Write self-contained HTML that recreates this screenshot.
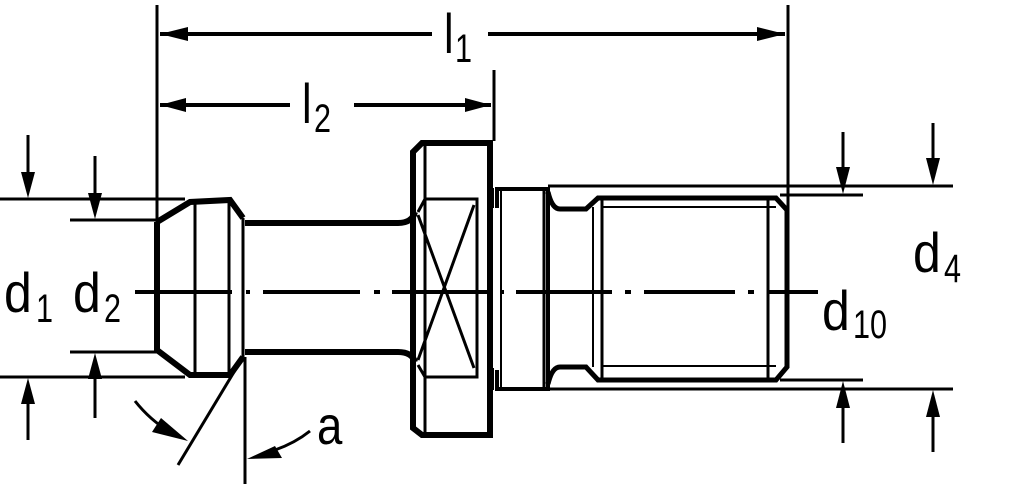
<!DOCTYPE html>
<html><head><meta charset="utf-8"><style>
html,body{margin:0;padding:0;background:#fff;}
svg{display:block;}
text{font-family:"Liberation Sans",sans-serif;fill:#000;}
</style></head><body>
<svg width="1024" height="486" viewBox="0 0 1024 486" xmlns="http://www.w3.org/2000/svg">
<g stroke="#000" fill="none" stroke-linecap="butt">
<line x1="157" y1="5" x2="157" y2="222" stroke-width="3"/>
<line x1="788" y1="5" x2="788" y2="210" stroke-width="3"/>
<line x1="494" y1="70" x2="494" y2="141" stroke-width="3"/>
<line x1="160" y1="34" x2="432" y2="34" stroke-width="4"/>
<line x1="488" y1="34" x2="785" y2="34" stroke-width="4"/>
<line x1="160" y1="105" x2="290" y2="105" stroke-width="4"/>
<line x1="354" y1="105" x2="491" y2="105" stroke-width="4"/>
<line x1="0" y1="199" x2="185" y2="199" stroke-width="3"/>
<line x1="0" y1="377" x2="185" y2="377" stroke-width="3"/>
<line x1="70" y1="220" x2="157" y2="220" stroke-width="3"/>
<line x1="70" y1="352" x2="157" y2="352" stroke-width="3"/>
<line x1="28" y1="135" x2="28" y2="175" stroke-width="3"/>
<line x1="28" y1="400" x2="28" y2="440" stroke-width="3"/>
<line x1="95" y1="156" x2="95" y2="195" stroke-width="3"/>
<line x1="95" y1="378" x2="95" y2="418" stroke-width="3"/>
<line x1="548" y1="186" x2="953" y2="186" stroke-width="3"/>
<line x1="548" y1="389" x2="953" y2="389" stroke-width="3"/>
<line x1="780" y1="195" x2="863" y2="195" stroke-width="3"/>
<line x1="780" y1="380" x2="863" y2="380" stroke-width="3"/>
<line x1="843" y1="132" x2="843" y2="170" stroke-width="3"/>
<line x1="843" y1="405" x2="843" y2="443" stroke-width="3"/>
<line x1="933" y1="123" x2="933" y2="162" stroke-width="3"/>
<line x1="933" y1="413" x2="933" y2="452" stroke-width="3"/>
<path d="M135 292 H232 M246 292 H250 M263 292 H360 M374 292 H380 M392 292 H488 M500 292 H504 M516 292 H612 M625 292 H631 M644 292 H735 M748 292 H754 M767 292 H818" stroke-width="4"/>
<path d="M157 222 L190 202 L230 200 L243 218 M157 222 V350 L190 375 L230 375 L243 357" stroke-width="6"/>
<line x1="195" y1="203" x2="195" y2="372" stroke-width="3"/>
<line x1="229" y1="200" x2="229" y2="375" stroke-width="3"/>
<line x1="243" y1="218" x2="243" y2="357" stroke-width="3"/>
<path d="M245 223 H398 Q412 223 415 212" stroke-width="6"/>
<path d="M245 352 H398 Q412 352 415 362" stroke-width="6"/>
<path d="M490 143 H422 L413 152 V428 L422 435 H490 Z" stroke-width="6"/>
<line x1="425" y1="145" x2="425" y2="432" stroke-width="3"/>
<path d="M425 199 H477 V377 H425" stroke-width="3"/>
<path d="M425 199 L418 212 M425 377 L418 365" stroke-width="3"/>
<path d="M418 215 L474 368 M474 205 L418 360" stroke-width="3"/>
<path d="M497 208 V189 H548 V389 H497 V370" stroke-width="4"/>
<line x1="501" y1="190" x2="501" y2="388" stroke-width="2"/>
<path d="M493 188 V208 M493 368 V390" stroke-width="2"/>
<line x1="544" y1="190" x2="544" y2="388" stroke-width="3"/>
<path d="M548 192 Q552 209 560 209 H586 L598 198 H776 L787 210 V367 L776 380 H598 L586 367 H560 Q552 367 548 384" stroke-width="5"/>
<line x1="593" y1="207" x2="593" y2="367" stroke-width="2"/>
<line x1="602" y1="200" x2="602" y2="378" stroke-width="3"/>
<line x1="602" y1="207" x2="776" y2="207" stroke-width="2"/>
<line x1="602" y1="366" x2="776" y2="366" stroke-width="2"/>
<line x1="768" y1="200" x2="768" y2="378" stroke-width="3"/>
<line x1="178" y1="465" x2="243" y2="357" stroke-width="3"/>
<line x1="245" y1="357" x2="245" y2="484" stroke-width="3"/>
<path d="M135 401 Q150 420 170 432" stroke-width="3"/>
<path d="M310 431 Q295 443 275 450" stroke-width="3"/>
</g>
<g fill="#000">
<polygon points="160,34 188,27 188,41"/>
<polygon points="785,34 757,27 757,41"/>
<polygon points="160,105 186,98 186,112"/>
<polygon points="491,105 465,98 465,112"/>
<polygon points="28,198 21,172 35,172"/>
<polygon points="28,378 21,404 35,404"/>
<polygon points="95,219 88,193 102,193"/>
<polygon points="95,353 88,379 102,379"/>
<polygon points="843,194 836,167 850,167"/>
<polygon points="843,381 836,408 850,408"/>
<polygon points="933,185 926,158 940,158"/>
<polygon points="933,390 926,417 940,417"/>
<polygon points="188,441 152,432 161,418"/>
<polygon points="247,459 275,446 282,458"/>
</g>
<text transform="translate(444,53) scale(0.9,1.15)" font-size="48">l</text><text transform="translate(455,62) scale(0.85,1.1)" font-size="36">1</text>
<text transform="translate(302,123) scale(0.9,1.15)" font-size="48">l</text><text transform="translate(314,132) scale(0.85,1.1)" font-size="36">2</text>
<text transform="translate(4,312) scale(1,1.12)" font-size="50">d</text><text transform="translate(36,322) scale(0.85,1.1)" font-size="36">1</text>
<text transform="translate(73,312) scale(1,1.12)" font-size="50">d</text><text transform="translate(104,322) scale(0.85,1.1)" font-size="36">2</text>
<text transform="translate(822,330) scale(1,1.12)" font-size="50">d</text><text transform="translate(853,338) scale(0.85,1.1)" font-size="36">10</text>
<text transform="translate(913,272) scale(1,1.12)" font-size="50">d</text><text transform="translate(944,282) scale(0.85,1.1)" font-size="36">4</text>
<text transform="translate(317,444) scale(0.95,1.12)" font-size="48">a</text>
</svg>
</body></html>
